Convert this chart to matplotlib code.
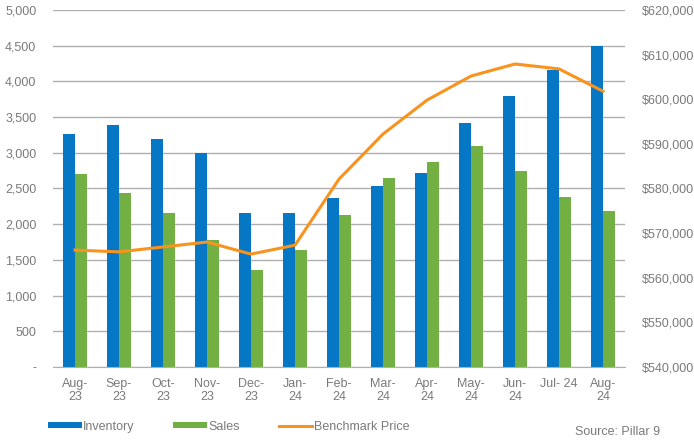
import matplotlib.pyplot as plt
import matplotlib.ticker as mticker
import numpy as np

plt.rcParams['font.family'] = ['Liberation Sans', 'DejaVu Sans']

months = ['Aug-\n23', 'Sep-\n23', 'Oct-\n23', 'Nov-\n23', 'Dec-\n23', 'Jan-\n24', 'Feb-\n24',
          'Mar-\n24', 'Apr-\n24', 'May-\n24', 'Jun-\n24', 'Jul- 24', 'Aug-\n24']
inventory = [3270, 3390, 3200, 3000, 2160, 2150, 2360, 2540, 2720, 3420, 3790, 4160, 4490]
sales = [2710, 2430, 2160, 1780, 1360, 1640, 2130, 2650, 2870, 3090, 2740, 2380, 2180]
benchmark = [566200, 565800, 566900, 568000, 565300, 567300, 582100, 592200, 599800,
             605200, 607900, 606800, 601800]

BLUE = '#0577c4'
GREEN = '#72b043'
ORANGE = '#f7931e'
TEXT = '#7a7a7a'

fig = plt.figure(figsize=(6.94, 4.44), dpi=100)
ax = fig.add_axes([53 / 694, 77 / 444, 572 / 694, 357 / 444])
x = np.arange(len(months))
w = 0.28

ax.bar(x - w / 2, inventory, w, color=BLUE, label='Inventory', zorder=2)
ax.bar(x + w / 2, sales, w, color=GREEN, label='Sales', zorder=2)

ax.set_ylim(0, 5000)
ax.set_xlim(-0.5, len(months) - 0.5)
ax.yaxis.set_major_locator(mticker.MultipleLocator(500))
ax.yaxis.set_major_formatter(mticker.FuncFormatter(lambda v, p: '-' if v == 0 else f'{v:,.0f}'))
ax.grid(axis='y', color='#b0b0b0', linewidth=1, zorder=0)
ax.set_xticks(x)
ax.set_xticklabels(months, linespacing=1.05)
for s in ['top', 'right', 'left']:
    ax.spines[s].set_visible(False)
ax.spines['bottom'].set_color('#b0b0b0')
ax.tick_params(axis='both', length=0, colors=TEXT, labelsize=9)
ax.tick_params(axis='y', pad=12)
ax.tick_params(axis='x', pad=8)

ax2 = ax.twinx()
ax2.plot(x, benchmark, color=ORANGE, linewidth=2.2, label='Benchmark Price', zorder=3)
ax2.set_ylim(540000, 620000)
ax2.yaxis.set_major_locator(mticker.MultipleLocator(10000))
ax2.yaxis.set_major_formatter(mticker.FuncFormatter(lambda v, p: f'${v:,.0f}'))
for s in ax2.spines.values():
    s.set_visible(False)
ax2.tick_params(axis='y', length=0, colors=TEXT, labelsize=9, pad=12)

h1, l1 = ax.get_legend_handles_labels()
h2, l2 = ax2.get_legend_handles_labels()
fig.legend(h1 + h2, l1 + l2, loc='lower left', bbox_to_anchor=(0.053, 0.0), ncol=3,
           frameon=False, fontsize=9, labelcolor=TEXT, handlelength=2.7, handleheight=0.4,
           columnspacing=3.1, handletextpad=0.1)
fig.text(0.951, 0.014, 'Source: Pillar 9', ha='right', va='bottom', color=TEXT, fontsize=9)

fig.savefig('out.png', dpi=100)
